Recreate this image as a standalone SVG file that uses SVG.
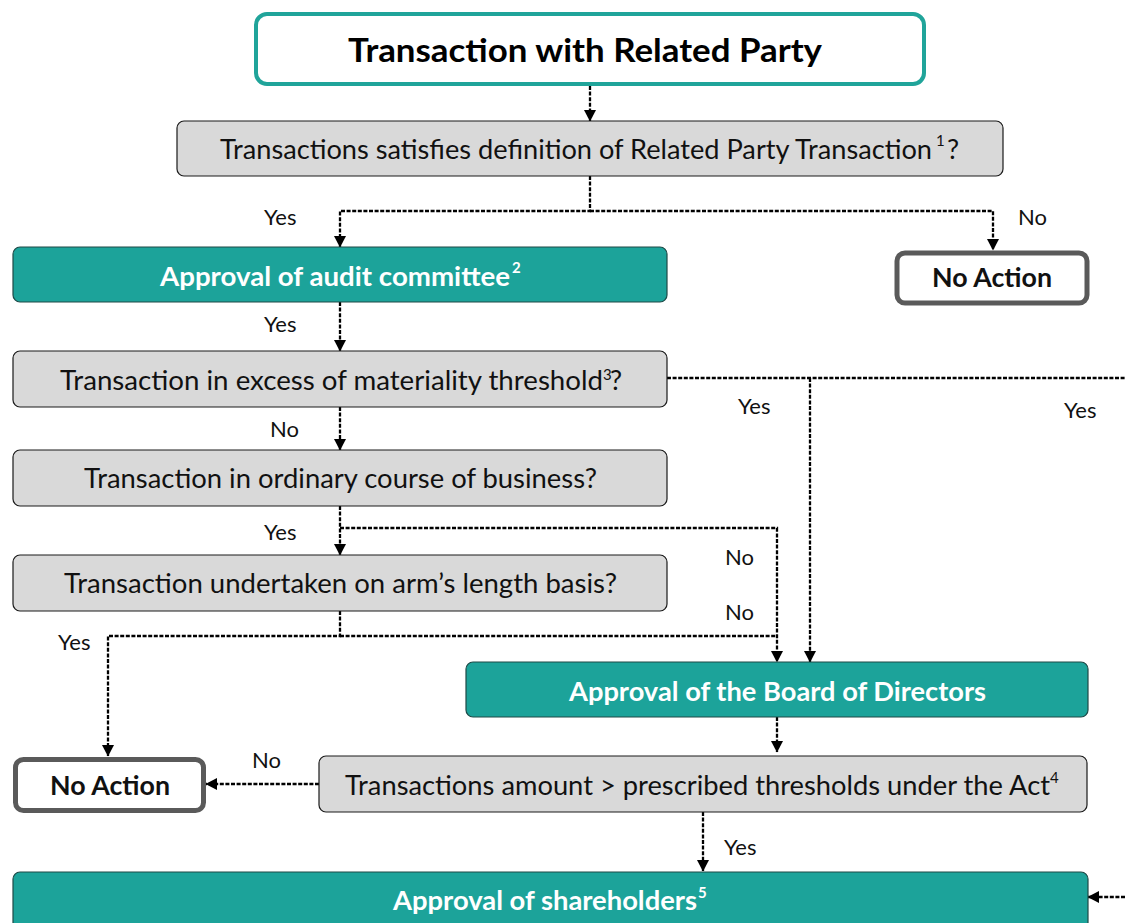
<svg xmlns="http://www.w3.org/2000/svg" width="1125" height="923" viewBox="0 0 1125 923">
<style>
text{font-family:Lato,"Open Sans","Liberation Sans",sans-serif;}
.gray{fill:#d9d9d9;stroke:#1a1a1a;stroke-width:1.2;}
.teal{fill:#1ca39a;stroke:#1e4a47;stroke-width:1.2;}
.noact{fill:#ffffff;stroke:#5a5a5a;stroke-width:5;}
.t{font-size:27px;fill:#111;}
.tw{font-size:27px;fill:#fff;font-weight:bold;}
.tb{font-size:27px;fill:#111;font-weight:bold;}
.sup{font-size:15px;}
.lbl{font-size:22px;fill:#111;}
.conn{fill:none;stroke:#000;stroke-width:2.3;stroke-dasharray:4 1.6;}
</style>
<defs>
<marker id="ah" markerUnits="userSpaceOnUse" markerWidth="13" markerHeight="13" refX="11" refY="6.5" orient="auto">
<path d="M0,0.5 L11.5,6.5 L0,12.5 z" fill="#000"/>
</marker>
</defs>

<g id="connectors">
<path class="conn" d="M590,86 V121" marker-end="url(#ah)"/>
<path class="conn" d="M590,176 V211 H340 V247" marker-end="url(#ah)"/>
<path class="conn" d="M590,211 H993 V250" marker-end="url(#ah)"/>
<path class="conn" d="M340,302 V351" marker-end="url(#ah)"/>
<path class="conn" d="M667,378 H1125"/>
<path class="conn" d="M810,378 V662" marker-end="url(#ah)"/>
<path class="conn" d="M340,407 V450" marker-end="url(#ah)"/>
<path class="conn" d="M340,506 V555" marker-end="url(#ah)"/>
<path class="conn" d="M340,528 H777 V662" marker-end="url(#ah)"/>
<path class="conn" d="M340,611 V636 H108 V756" marker-end="url(#ah)"/>
<path class="conn" d="M340,636 H777"/>
<path class="conn" d="M777,717 V752" marker-end="url(#ah)"/>
<path class="conn" d="M319,784 H206" marker-end="url(#ah)"/>
<path class="conn" d="M703,812 V871" marker-end="url(#ah)"/>
<path class="conn" d="M1125,897 H1088" marker-end="url(#ah)"/>
</g>

<g id="labels">
<text class="lbl" x="264" y="225">Yes</text>
<text class="lbl" x="1018" y="225">No</text>
<text class="lbl" x="264" y="332">Yes</text>
<text class="lbl" x="270" y="437">No</text>
<text class="lbl" x="738" y="414">Yes</text>
<text class="lbl" x="1064" y="418">Yes</text>
<text class="lbl" x="264" y="540">Yes</text>
<text class="lbl" x="725" y="565">No</text>
<text class="lbl" x="725" y="620">No</text>
<text class="lbl" x="58" y="650">Yes</text>
<text class="lbl" x="252" y="768">No</text>
<text class="lbl" x="724" y="855">Yes</text>
</g>

<g id="node-title">
<rect x="256" y="14" width="668" height="70" rx="11" fill="#fff" stroke="#20a49a" stroke-width="4"/>
<text x="348" y="62" font-size="32" font-weight="bold" fill="#000" textLength="474" lengthAdjust="spacingAndGlyphs">Transaction with Related Party</text>
</g>

<g id="node-definition">
<rect class="gray" x="177" y="121" width="826" height="55" rx="7"/>
<text class="t" x="220" y="159" textLength="712" lengthAdjust="spacingAndGlyphs">Transactions satisfies definition of Related Party Transaction</text>
<text class="t sup" x="936" y="146">1</text>
<text class="t" x="947" y="159">?</text>
</g>

<g id="node-audit">
<rect class="teal" x="13" y="247" width="654" height="55" rx="7"/>
<text class="tw" x="160" y="286" textLength="350" lengthAdjust="spacingAndGlyphs">Approval of audit committee</text>
<text class="tw sup" x="512" y="273">2</text>
</g>

<g id="node-noaction-top">
<rect class="noact" x="897" y="253" width="190" height="50" rx="8"/>
<text class="tb" x="992" y="287" text-anchor="middle" textLength="120" lengthAdjust="spacingAndGlyphs">No Action</text>
</g>

<g id="node-materiality">
<rect class="gray" x="13" y="351" width="654" height="56" rx="7"/>
<text class="t" x="60" y="390" textLength="543" lengthAdjust="spacingAndGlyphs">Transaction in excess of materiality threshold</text>
<text class="t sup" x="603" y="380">3</text>
<text class="t" x="610" y="390">?</text>
</g>

<g id="node-ordinary">
<rect class="gray" x="13" y="450" width="654" height="56" rx="7"/>
<text class="t" x="84" y="488" textLength="513" lengthAdjust="spacingAndGlyphs">Transaction in ordinary course of business?</text>
</g>

<g id="node-armslength">
<rect class="gray" x="13" y="555" width="654" height="56" rx="7"/>
<text class="t" x="64" y="593" textLength="553" lengthAdjust="spacingAndGlyphs">Transaction undertaken on arm’s length basis?</text>
</g>

<g id="node-board">
<rect class="teal" x="466" y="662" width="622" height="55" rx="7"/>
<text class="tw" x="569" y="701" textLength="417" lengthAdjust="spacingAndGlyphs">Approval of the Board of Directors</text>
</g>

<g id="node-thresholds">
<rect class="gray" x="319" y="756" width="768" height="56" rx="7"/>
<text class="t" x="345" y="795" textLength="705" lengthAdjust="spacingAndGlyphs">Transactions amount &gt; prescribed thresholds under the Act</text>
<text class="t sup" x="1050" y="783">4</text>
</g>

<g id="node-noaction-left">
<rect class="noact" x="15.5" y="759.5" width="188" height="51" rx="8"/>
<text class="tb" x="110" y="795" text-anchor="middle" textLength="120" lengthAdjust="spacingAndGlyphs">No Action</text>
</g>

<g id="node-shareholders">
<rect class="teal" x="13" y="872" width="1075" height="70" rx="7"/>
<text class="tw" x="393" y="910" textLength="304" lengthAdjust="spacingAndGlyphs">Approval of shareholders</text>
<text class="tw sup" x="698" y="898">5</text>
</g>
</svg>
